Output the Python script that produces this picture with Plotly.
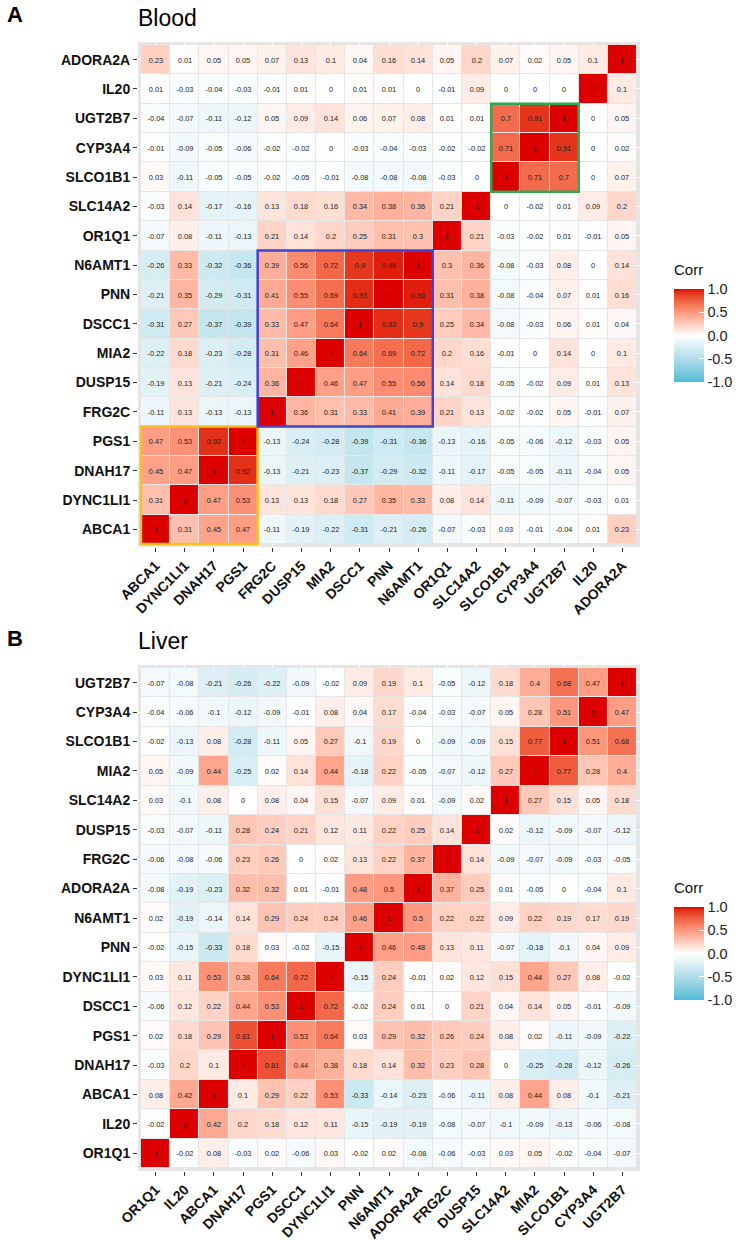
import plotly.graph_objects as go
import numpy as np

# ---------------- DATA ----------------
blood_genes = ["ABCA1", "DYNC1LI1", "DNAH17", "PGS1", "FRG2C", "DUSP15", "MIA2", "DSCC1",
               "PNN", "N6AMT1", "OR1Q1", "SLC14A2", "SLCO1B1", "CYP3A4", "UGT2B7", "IL20", "ADORA2A"]
# rows as displayed, top to bottom (ADORA2A ... ABCA1); columns follow blood_genes
blood_rows_top_down = [
    [0.23, 0.01, 0.05, 0.05, 0.07, 0.13, 0.1, 0.04, 0.16, 0.14, 0.05, 0.2, 0.07, 0.02, 0.05, 0.1, 1],
    [0.01, -0.03, -0.04, -0.03, -0.01, 0.01, 0, 0.01, 0.01, 0, -0.01, 0.09, 0, 0, 0, 1, 0.1],
    [-0.04, -0.07, -0.11, -0.12, 0.05, 0.09, 0.14, 0.06, 0.07, 0.08, 0.01, 0.01, 0.7, 0.91, 1, 0, 0.05],
    [-0.01, -0.09, -0.05, -0.06, -0.02, -0.02, 0, -0.03, -0.04, -0.03, -0.02, -0.02, 0.71, 1, 0.91, 0, 0.02],
    [0.03, -0.11, -0.05, -0.05, -0.02, -0.05, -0.01, -0.08, -0.08, -0.08, -0.03, 0, 1, 0.71, 0.7, 0, 0.07],
    [-0.03, 0.14, -0.17, -0.16, 0.13, 0.18, 0.16, 0.34, 0.38, 0.36, 0.21, 1, 0, -0.02, 0.01, 0.09, 0.2],
    [-0.07, 0.08, -0.11, -0.13, 0.21, 0.14, 0.2, 0.25, 0.31, 0.3, 1, 0.21, -0.03, -0.02, 0.01, -0.01, 0.05],
    [-0.26, 0.33, -0.32, -0.36, 0.39, 0.56, 0.72, 0.9, 0.96, 1, 0.3, 0.36, -0.08, -0.03, 0.08, 0, 0.14],
    [-0.21, 0.35, -0.29, -0.31, 0.41, 0.55, 0.69, 0.93, 1, 0.96, 0.31, 0.38, -0.08, -0.04, 0.07, 0.01, 0.16],
    [-0.31, 0.27, -0.37, -0.39, 0.33, 0.47, 0.64, 1, 0.93, 0.9, 0.25, 0.34, -0.08, -0.03, 0.06, 0.01, 0.04],
    [-0.22, 0.18, -0.23, -0.28, 0.31, 0.46, 1, 0.64, 0.69, 0.72, 0.2, 0.16, -0.01, 0, 0.14, 0, 0.1],
    [-0.19, 0.13, -0.21, -0.24, 0.36, 1, 0.46, 0.47, 0.55, 0.56, 0.14, 0.18, -0.05, -0.02, 0.09, 0.01, 0.13],
    [-0.11, 0.13, -0.13, -0.13, 1, 0.36, 0.31, 0.33, 0.41, 0.39, 0.21, 0.13, -0.02, -0.02, 0.05, -0.01, 0.07],
    [0.47, 0.53, 0.92, 1, -0.13, -0.24, -0.28, -0.39, -0.31, -0.36, -0.13, -0.16, -0.05, -0.06, -0.12, -0.03, 0.05],
    [0.45, 0.47, 1, 0.92, -0.13, -0.21, -0.23, -0.37, -0.29, -0.32, -0.11, -0.17, -0.05, -0.05, -0.11, -0.04, 0.05],
    [0.31, 1, 0.47, 0.53, 0.13, 0.13, 0.18, 0.27, 0.35, 0.33, 0.08, 0.14, -0.11, -0.09, -0.07, -0.03, 0.01],
    [1, 0.31, 0.45, 0.47, -0.11, -0.19, -0.22, -0.31, -0.21, -0.26, -0.07, -0.03, 0.03, -0.01, -0.04, 0.01, 0.23],
]
# highlighted clusters in Blood: (first gene, last gene, colour)
blood_clusters = [("ABCA1", "PGS1", "#F5C11E"),
                  ("FRG2C", "N6AMT1", "#4343D2"),
                  ("SLCO1B1", "UGT2B7", "#2FA84F")]

liver_genes = ["OR1Q1", "IL20", "ABCA1", "DNAH17", "PGS1", "DSCC1", "DYNC1LI1", "PNN", "N6AMT1",
               "ADORA2A", "FRG2C", "DUSP15", "SLC14A2", "MIA2", "SLCO1B1", "CYP3A4", "UGT2B7"]
liver_rows_top_down = [
    [-0.07, -0.08, -0.21, -0.26, -0.22, -0.09, -0.02, 0.09, 0.19, 0.1, -0.05, -0.12, 0.18, 0.4, 0.68, 0.47, 1],
    [-0.04, -0.06, -0.1, -0.12, -0.09, -0.01, 0.08, 0.04, 0.17, -0.04, -0.03, -0.07, 0.05, 0.28, 0.51, 1, 0.47],
    [-0.02, -0.13, 0.08, -0.28, -0.11, 0.05, 0.27, -0.1, 0.19, 0, -0.09, -0.09, 0.15, 0.77, 1, 0.51, 0.68],
    [0.05, -0.09, 0.44, -0.25, 0.02, 0.14, 0.44, -0.18, 0.22, -0.05, -0.07, -0.12, 0.27, 1, 0.77, 0.28, 0.4],
    [0.03, -0.1, 0.08, 0, 0.08, 0.04, 0.15, -0.07, 0.09, 0.01, -0.09, 0.02, 1, 0.27, 0.15, 0.05, 0.18],
    [-0.03, -0.07, -0.11, 0.28, 0.24, 0.21, 0.12, 0.11, 0.22, 0.25, 0.14, 1, 0.02, -0.12, -0.09, -0.07, -0.12],
    [-0.06, -0.08, -0.06, 0.23, 0.26, 0, 0.02, 0.13, 0.22, 0.37, 1, 0.14, -0.09, -0.07, -0.09, -0.03, -0.05],
    [-0.08, -0.19, -0.23, 0.32, 0.32, 0.01, -0.01, 0.48, 0.5, 1, 0.37, 0.25, 0.01, -0.05, 0, -0.04, 0.1],
    [0.02, -0.19, -0.14, 0.14, 0.29, 0.24, 0.24, 0.46, 1, 0.5, 0.22, 0.22, 0.09, 0.22, 0.19, 0.17, 0.19],
    [-0.02, -0.15, -0.33, 0.18, 0.03, -0.02, -0.15, 1, 0.46, 0.48, 0.13, 0.11, -0.07, -0.18, -0.1, 0.04, 0.09],
    [0.03, 0.11, 0.53, 0.38, 0.64, 0.72, 1, -0.15, 0.24, -0.01, 0.02, 0.12, 0.15, 0.44, 0.27, 0.08, -0.02],
    [-0.06, 0.12, 0.22, 0.44, 0.53, 1, 0.72, -0.02, 0.24, 0.01, 0, 0.21, 0.04, 0.14, 0.05, -0.01, -0.09],
    [0.02, 0.18, 0.29, 0.81, 1, 0.53, 0.64, 0.03, 0.29, 0.32, 0.26, 0.24, 0.08, 0.02, -0.11, -0.09, -0.22],
    [-0.03, 0.2, 0.1, 1, 0.81, 0.44, 0.38, 0.18, 0.14, 0.32, 0.23, 0.28, 0, -0.25, -0.28, -0.12, -0.26],
    [0.08, 0.42, 1, 0.1, 0.29, 0.22, 0.53, -0.33, -0.14, -0.23, -0.06, -0.11, 0.08, 0.44, 0.08, -0.1, -0.21],
    [-0.02, 1, 0.42, 0.2, 0.18, 0.12, 0.11, -0.15, -0.19, -0.19, -0.08, -0.07, -0.1, -0.09, -0.13, -0.06, -0.08],
    [1, -0.02, 0.08, -0.03, 0.02, -0.06, 0.03, -0.02, 0.02, -0.08, -0.06, -0.03, 0.03, 0.05, -0.02, -0.04, -0.07],
]

legend_ticks = [-1, -0.5, 0, 0.5, 1]
legend_ticktext = ["-1.0", "-0.5", "0.0", "0.5", "1.0"]

LOW, MID, HIGH = "#4DBBD5", "#FFFFFF", "#DC0000"

# ---------------- colour scale (Lab interpolation like ggplot) ----------------
def hex2rgb(h):
    h = h.lstrip("#")
    return np.array([int(h[i:i + 2], 16) for i in (0, 2, 4)], dtype=float)

M = np.array([[0.4124564, 0.3575761, 0.1804375],
              [0.2126729, 0.7151522, 0.0721750],
              [0.0193339, 0.1191920, 0.9503041]])
Minv = np.linalg.inv(M)
WN = np.array([0.95047, 1.0, 1.08883])

def rgb2lab(rgb):
    c = rgb / 255.0
    c = np.where(c <= 0.04045, c / 12.92, ((c + 0.055) / 1.055) ** 2.4)
    xyz = M @ c / WN
    f = np.where(xyz > 216 / 24389, np.cbrt(xyz), (24389 / 27 * xyz + 16) / 116)
    return np.array([116 * f[1] - 16, 500 * (f[0] - f[1]), 200 * (f[1] - f[2])])

def lab2rgb(lab):
    L, a, b = lab
    fy = (L + 16) / 116
    fx = fy + a / 500
    fz = fy - b / 200
    f = np.array([fx, fy, fz])
    xyz = np.where(f ** 3 > 216 / 24389, f ** 3, (116 * f - 16) / (24389 / 27)) * WN
    c = Minv @ xyz
    c = np.clip(c, 0, 1)
    c = np.where(c <= 0.0031308, 12.92 * c, 1.055 * c ** (1 / 2.4) - 0.055)
    c = np.clip(np.round(c * 255), 0, 255).astype(int)
    return f"rgb({c[0]},{c[1]},{c[2]})"

lab_low, lab_mid, lab_high = rgb2lab(hex2rgb(LOW)), rgb2lab(hex2rgb(MID)), rgb2lab(hex2rgb(HIGH))
colorscale = []
for t in np.linspace(0, 1, 41):
    v = 2 * t - 1
    if v < 0:
        lab = lab_low + (lab_mid - lab_low) * (v + 1)
    else:
        lab = lab_mid + (lab_high - lab_mid) * v
    colorscale.append([float(t), lab2rgb(lab)])

def fmt(v):
    s = f"{v:.2f}".rstrip("0").rstrip(".")
    return "0" if s in ("", "-0") else s

# ---------------- figure ----------------
W, H = 745, 1240
FONT = "Liberation Sans, Arial, Helvetica, sans-serif"

def px_x(p):
    return p / W

def px_y(p):
    return 1 - p / H

fig = go.Figure()

panels = [
    dict(genes=blood_genes, rows=blood_rows_top_down, xa="x", ya="y", ca="coloraxis",
         top=42, bottom=547, title="Blood", letter="A", title_y=18, bar_top=289, bar_bottom=382,
         clusters=blood_clusters),
    dict(genes=liver_genes, rows=liver_rows_top_down, xa="x2", ya="y2", ca="coloraxis2",
         top=665, bottom=1171, title="Liver", letter="B", title_y=641, bar_top=907, bar_bottom=1000,
         clusters=[]),
]

LEFT, RIGHT = 138, 640
layout_axes = {}
for i, p in enumerate(panels):
    z = p["rows"][::-1]
    text = [[fmt(v) for v in r] for r in z]
    fig.add_trace(go.Heatmap(
        z=z, x=p["genes"], y=p["genes"], text=text, texttemplate="%{text}",
        textfont=dict(size=7.4, color="#222222", family=FONT),
        coloraxis=p["ca"], xaxis=p["xa"], yaxis=p["ya"], xgap=1, ygap=1,
        hovertemplate="%{x} / %{y}: %{z}<extra></extra>"))
    sfx = "" if i == 0 else "2"
    n = len(p["genes"])
    common = dict(type="category", range=[-0.6, n - 0.4], showgrid=True, gridcolor="white",
                  gridwidth=1, zeroline=False, showline=False, ticks="outside", ticklen=4,
                  tickcolor="#333333", tickwidth=1, automargin=False, fixedrange=True,
                  tickfont=dict(size=14, family=FONT, color="#111111", weight="bold"))
    layout_axes["xaxis" + sfx] = dict(common, domain=[px_x(LEFT), px_x(RIGHT)], tickangle=-45,
                                      anchor="y" + sfx, categoryorder="array", categoryarray=p["genes"])
    layout_axes["yaxis" + sfx] = dict(common, domain=[px_y(p["bottom"]), px_y(p["top"])],
                                      anchor="x" + sfx, categoryorder="array", categoryarray=p["genes"])
    bar_len = p["bar_bottom"] - p["bar_top"]
    layout_axes["coloraxis" + sfx] = dict(
        colorscale=colorscale, cmin=-1, cmax=1,
        colorbar=dict(
            x=px_x(674), xanchor="left", y=px_y((p["bar_top"] + p["bar_bottom"]) / 2), yanchor="middle",
            len=bar_len, lenmode="pixels", thickness=30, thicknessmode="pixels",
            tickvals=legend_ticks, ticktext=legend_ticktext,
            tickfont=dict(size=14.5, family=FONT, color="#222222"),
            ticks="inside", tickcolor="white", ticklen=5, outlinewidth=0, xpad=0, ypad=0))
    # legend title
    fig.add_annotation(text="Corr", x=px_x(672), y=px_y(p["bar_top"] - 20),
                       xref="paper", yref="paper", xanchor="left", yanchor="middle", showarrow=False,
                       font=dict(size=15, family=FONT, color="#111111"))
    # panel letter and title
    fig.add_annotation(text="<b>" + p["letter"] + "</b>", x=px_x(5), y=px_y(p["title_y"] - 3),
                       xref="paper", yref="paper", xanchor="left", yanchor="middle", showarrow=False,
                       font=dict(size=22, family=FONT, color="#000000"))
    fig.add_annotation(text=p["title"], x=px_x(136), y=px_y(p["title_y"]),
                       xref="paper", yref="paper", xanchor="left", yanchor="middle", showarrow=False,
                       font=dict(size=23, family=FONT, color="#000000"))
    # cluster rectangles
    for g0, g1, col in p["clusters"]:
        a, b = p["genes"].index(g0), p["genes"].index(g1)
        fig.add_shape(type="rect", xref=p["xa"], yref=p["ya"], x0=a - 0.5, x1=b + 0.5,
                      y0=a - 0.5, y1=b + 0.5, line=dict(color=col, width=2.5),
                      fillcolor="rgba(0,0,0,0)", layer="above")

fig.update_layout(
    width=W, height=H, margin=dict(l=0, r=0, t=0, b=0, pad=0),
    paper_bgcolor="white", plot_bgcolor="#E5E5E5",
    font=dict(family=FONT, color="#111111"),
    showlegend=False,
    **layout_axes,
)

fig.write_html("out.html", config={"displayModeBar": False},
               post_script="document.body.style.margin='0';document.body.style.padding='0';")
